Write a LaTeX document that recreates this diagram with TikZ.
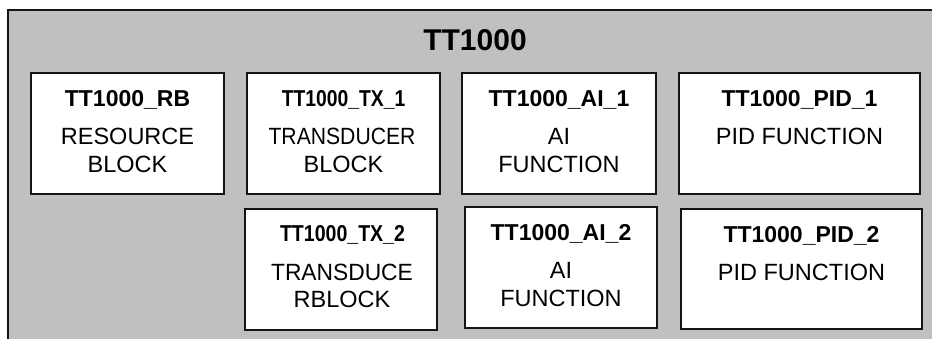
\documentclass[tikz,border=0pt]{standalone}
\usepackage{graphicx}
\usepackage{fontspec}
\setmainfont{Liberation Sans}
\definecolor{panelgray}{HTML}{C0C0C0}
\definecolor{edge}{HTML}{141414}
\tikzset{
  blockbox/.style={draw=edge, fill=white, line width=1.8pt, inner sep=0pt, minimum width=#1},
  blockbox/.default=190pt,
  ttl/.style={anchor=base, inner sep=0pt, font=\fontsize{23}{23}\selectfont\bfseries},
  txt/.style={anchor=base, inner sep=0pt, font=\fontsize{23.5}{23.5}\selectfont},
  maintitle/.style={anchor=base, inner sep=0pt, font=\fontsize{30}{30}\selectfont\bfseries}
}
\begin{document}
\begin{tikzpicture}[x=1pt,y=-1pt]
\useasboundingbox (0,0) rectangle (932,339);
\fill[white] (0,0) rectangle (932,339);
\draw[draw=edge, fill=panelgray, line width=1.5pt] (8,10) rectangle (945,350);
\node[maintitle] (main) at (475,51) {TT1000};
% row 1
\node[blockbox, minimum width=193pt, minimum height=121pt] (rb) at (127.5,133.5) {};
\node[blockbox, minimum width=193pt, minimum height=121pt] (tx1) at (343.5,133.5) {};
\node[blockbox, minimum width=194pt, minimum height=121pt] (ai1) at (559,133.5) {};
\node[blockbox, minimum width=241pt, minimum height=121pt] (pid1) at (799.5,133.5) {};
% row 2
\node[blockbox, minimum width=192pt, minimum height=121pt] (tx2) at (341,269.5) {};
\node[blockbox, minimum width=192pt, minimum height=121pt] (ai2) at (561,267.5) {};
\node[blockbox, minimum width=241pt, minimum height=120pt] (pid2) at (801.5,269) {};
% texts row 1
\node[ttl] (rbt) at (127.5,107) {TT1000\_RB};
\node[txt] (rb1) at (127.5,145) {RESOURCE};
\node[txt] (rb2) at (127.5,173) {BLOCK};
\node[ttl] (tx1t) at (343.5,107) {\scalebox{0.84}[1]{TT1000\_TX\_1}};
\node[txt] (tx11) at (342,145) {\scalebox{0.9}[1]{TRANSDUCER}};
\node[txt] (tx12) at (343.5,173) {BLOCK};
\node[ttl] (ai1t) at (559,107) {TT1000\_AI\_1};
\node[txt] (ai11) at (559,145) {AI};
\node[txt] (ai12) at (559,173) {FUNCTION};
\node[ttl] (pid1t) at (799.5,107) {TT1000\_PID\_1};
\node[txt] (pid11) at (799.5,145) {PID FUNCTION};
% texts row 2
\node[ttl] (tx2t) at (342.5,242) {\scalebox{0.85}[1]{TT1000\_TX\_2}};
\node[txt] (tx21) at (342,280) {\scalebox{0.97}[1]{TRANSDUCE}};
\node[txt] (tx22) at (342,307) {RBLOCK};
\node[ttl] (ai2t) at (561,241) {TT1000\_AI\_2};
\node[txt] (ai21) at (561,278) {AI};
\node[txt] (ai22) at (561,306) {FUNCTION};
\node[ttl] (pid2t) at (801.5,243) {TT1000\_PID\_2};
\node[txt] (pid21) at (801.5,280) {PID FUNCTION};
\end{tikzpicture}
\end{document}
